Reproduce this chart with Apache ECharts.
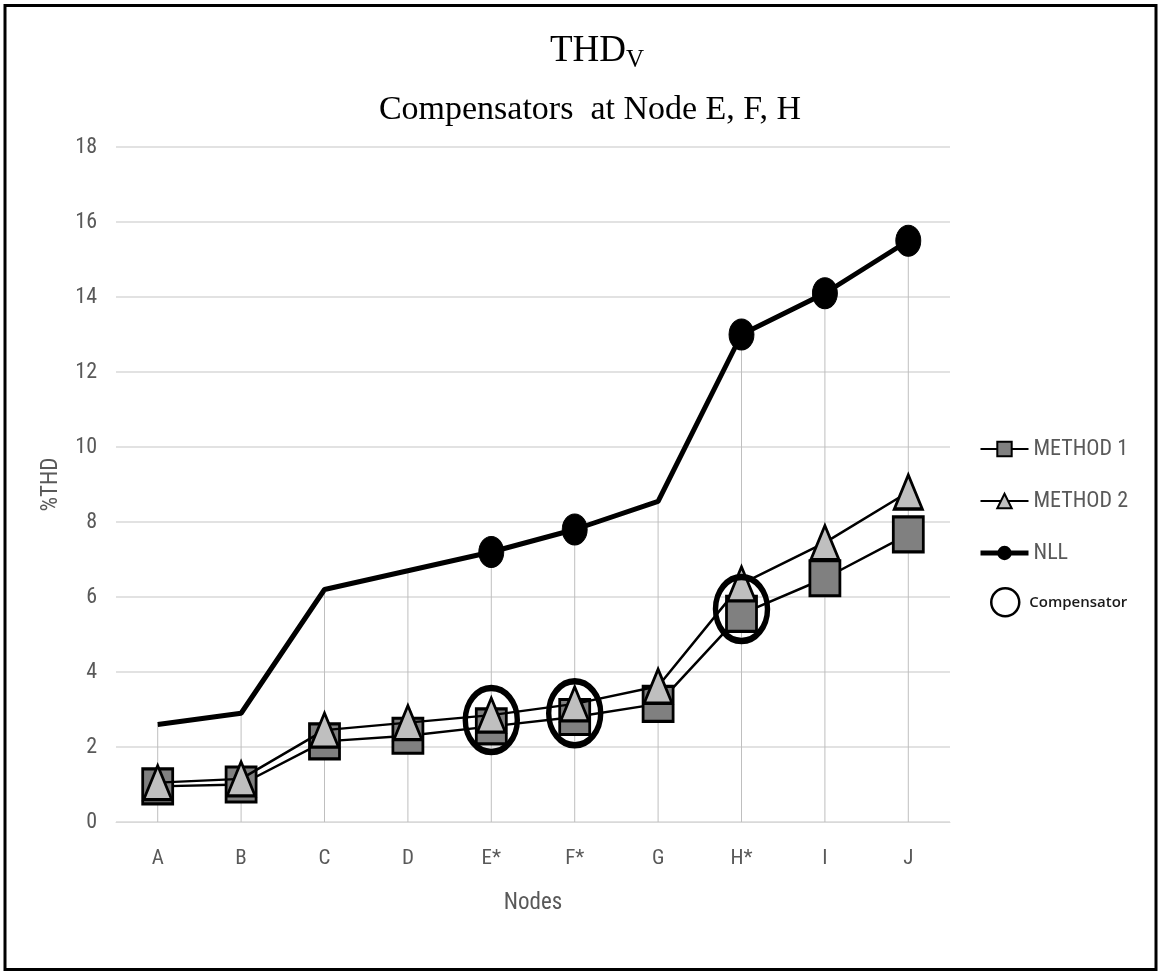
<!DOCTYPE html>
<html>
<head>
<meta charset="utf-8">
<script src="https://cdn.jsdelivr.net/npm/echarts@6/dist/echarts.min.js"></script>
<style>
html,body{margin:0;padding:0;background:#fff;}
#chart{width:1159px;height:972px;}
</style>
</head>
<body>
<div id="chart"></div>
<script>
const categories = ['A','B','C','D','E*','F*','G','H*','I','J'];
const method1 = [0.95, 1.0, 2.15, 2.3, 2.55, 2.8, 3.15, 5.55, 6.5, 7.67];
const method2 = [1.05, 1.15, 2.45, 2.65, 2.85, 3.15, 3.62, 6.35, 7.45, 8.8];
const nll     = [2.6, 2.9, 6.2, 6.7, 7.2, 7.8, 8.55, 13.0, 14.1, 15.5];
const nllMarked = ['E*','F*','H*','I','J'];
const compensator = [null, null, null, null, 2.72, 2.9, null, 5.68, null, null];
const yTicks = {min:0, max:18, interval:2};

const narrow = "'Liberation Sans Narrow','Roboto Condensed','DejaVu Sans Condensed','Open Sans',sans-serif";
const serif = "'Liberation Serif','DejaVu Serif',serif";

const chart = echarts.init(document.getElementById('chart'));
chart.setOption({
  animation:false,
  backgroundColor:'#fff',
  graphic:[{type:'rect', shape:{x:5, y:5.5, width:1151, height:964}, style:{fill:null, stroke:'#000', lineWidth:3}, silent:true}],
  title:[
    {text:'THD{sub|V}', left:592, textAlign:'center', top:25,
     textStyle:{fontFamily:serif, fontSize:37, fontWeight:'normal', color:'#000',
       rich:{sub:{fontFamily:serif, fontSize:25, color:'#000', padding:[18,0,0,0]}}}},
    {text:'Compensators  at Node E, F, H', left:585, textAlign:'center', top:88,
     textStyle:{fontFamily:serif, fontSize:34, fontWeight:'normal', color:'#000'}}
  ],
  legend:[
    {data:[
       {name:'METHOD 1'},
       {name:'METHOD 2'},
       {name:'NLL', lineStyle:{width:5}}
     ], orient:'vertical', left:978, top:438, padding:0,
     itemWidth:48, itemHeight:18, itemGap:30,
     textStyle:{fontFamily:narrow, fontSize:22, color:'#595959', lineHeight:18, padding:[0,0,0,0]}},
    {data:['Compensator'], orient:'vertical', left:990, top:587, padding:0,
     itemWidth:28, itemHeight:34, icon:'circle',
     itemStyle:{color:'rgba(0,0,0,0)', borderColor:'#000', borderWidth:2.5, opacity:1},
     textStyle:{fontFamily:"'Open Sans',sans-serif", fontSize:15, fontWeight:600, color:'#1a1a1a', padding:[0,0,0,5]}}
  ],
  grid:{left:116, right:209, top:147, bottom:150, containLabel:false},
  xAxis:{type:'category', data:categories, boundaryGap:true,
    name:'Nodes', nameLocation:'middle', nameGap:70,
    nameTextStyle:{fontFamily:narrow, fontSize:23, color:'#595959'},
    axisLine:{lineStyle:{color:'#d9d9d9', width:1}}, axisTick:{show:false},
    axisLabel:{fontFamily:narrow, fontSize:21, color:'#595959', margin:26}},
  yAxis:{type:'value', min:yTicks.min, max:yTicks.max, interval:yTicks.interval,
    name:'%THD', nameLocation:'middle', nameGap:53, nameRotate:90,
    nameTextStyle:{fontFamily:narrow, fontSize:23, color:'#595959'},
    axisLine:{show:false}, axisTick:{show:false},
    axisLabel:{fontFamily:narrow, fontSize:22, color:'#595959', margin:19},
    splitLine:{lineStyle:{color:'#d9d9d9', width:1.5}}},
  series:[
    {name:'drop', type:'bar', data:nll, barWidth:1, silent:true, z:1,
     itemStyle:{color:'#bfbfbf'}, legendHoverLink:false},
    {name:'NLL', type:'line', z:3,
     data:nll.map((v,i)=>({value:v, symbol: nllMarked.includes(categories[i]) ? 'circle' : 'none'})),
     symbol:'circle', symbolSize:[25,31], showAllSymbol:true,
     lineStyle:{color:'#000', width:5}, itemStyle:{color:'#000', borderColor:'#000'}},
    {name:'METHOD 1', type:'line', z:4, data:method1, symbol:'rect', symbolSize:[30,35], showAllSymbol:true,
     lineStyle:{color:'#000', width:2.5}, itemStyle:{color:'#808080', borderColor:'#000', borderWidth:3}},
    {name:'METHOD 2', type:'line', z:5, data:method2, symbol:'triangle', symbolSize:[28,34], showAllSymbol:true,
     lineStyle:{color:'#000', width:2.5}, itemStyle:{color:'#bfbfbf', borderColor:'#000', borderWidth:3}},
    {name:'Compensator', type:'scatter', z:6, data:compensator, symbol:'circle', symbolSize:[52,64],
     itemStyle:{color:'rgba(0,0,0,0)', borderColor:'#000', borderWidth:6, opacity:1}}
  ]
});
</script>
</body>
</html>
